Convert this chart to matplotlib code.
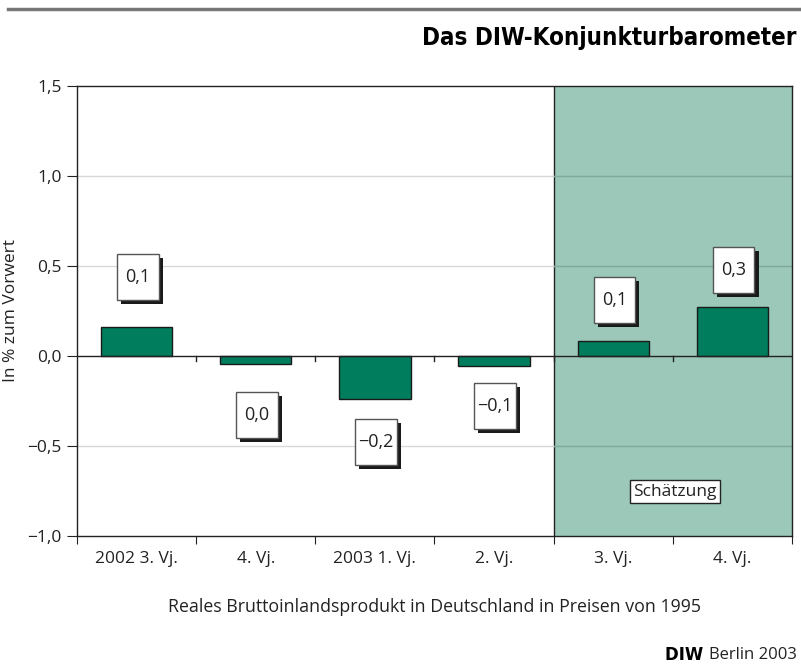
import numpy as np
import matplotlib
matplotlib.use("Agg")
import matplotlib.pyplot as plt
from matplotlib.patches import Rectangle
from matplotlib.lines import Line2D

plt.rcParams["font.family"] = ["Open Sans", "DejaVu Sans"]

# Daten
quartale = ["2002 3. Vj.", "4. Vj.", "2003 1. Vj.", "2. Vj.", "3. Vj.", "4. Vj."]
werte = [0.16, -0.045, -0.24, -0.055, 0.083, 0.27]
etiketten = ["0,1", "0,0", "\u22120,2", "\u22120,1", "0,1", "0,3"]
etikett_y = [0.44, -0.33, -0.48, -0.28, 0.31, 0.48]
schaetzung_ab = 4          # ab diesem Index geschätzt
yticks = [-1.0, -0.5, 0.0, 0.5, 1.0, 1.5]
ytick_labels = ["\u22121,0", "\u22120,5", "0,0", "0,5", "1,0", "1,5"]

GRUEN = "#007d5c"
HELLGRUEN = "#9bc8b8"
DUNKEL = "#222222"

fig = plt.figure(figsize=(8.01, 6.68), dpi=100)
ax = fig.add_axes([77 / 801, 1 - 536 / 668, 715 / 801, 450 / 668])

n = len(quartale)
x = np.arange(n)
ax.set_xlim(-0.5, n - 0.5)
ax.set_ylim(-1.0, 1.5)

# Schätzungsbereich
ax.axvspan(schaetzung_ab - 0.5, n - 0.5, color=HELLGRUEN, zorder=0, lw=0)
ax.axvline(schaetzung_ab - 0.5, color=DUNKEL, lw=1.0, zorder=1)

# Gitterlinien
for yv in [-0.5, 0.5, 1.0]:
    ax.plot([-0.5, schaetzung_ab - 0.5], [yv, yv], color="#d8d8d8", lw=1.0, zorder=1)
    ax.plot([schaetzung_ab - 0.5, n - 0.5], [yv, yv], color="#7fa99a", lw=1.0, zorder=1)

ax.bar(x, werte, width=0.6, color=GRUEN, edgecolor="#1a1a1a", lw=1.0, zorder=3)
ax.axhline(0, color=DUNKEL, lw=1.0, zorder=4)

# Tick-Striche an der Nulllinie
for xt in np.arange(0.5, n - 0.5, 1.0):
    ax.plot([xt, xt], [0, -0.03], color=DUNKEL, lw=1.0, zorder=4)

# Wertetafeln mit Schatten
bw, bh = 0.35, 0.256
dx, dy = 0.034, 0.022
for xi, yi, txt in zip(x, etikett_y, etiketten):
    cx = xi + 0.01
    ax.add_patch(Rectangle((cx - bw / 2 + dx, yi - bh / 2 - dy), bw, bh,
                           facecolor="#1a1a1a", edgecolor="none", zorder=5))
    ax.add_patch(Rectangle((cx - bw / 2, yi - bh / 2), bw, bh,
                           facecolor="white", edgecolor="#555555", lw=1.0, zorder=6))
    ax.text(cx, yi, txt, ha="center", va="center", fontsize=13,
            color=DUNKEL, zorder=7)

ax.text(4.52, -0.755, "Schätzung", ha="center", va="center", fontsize=12.5,
        color=DUNKEL, zorder=7,
        bbox=dict(boxstyle="square,pad=0.2", facecolor="white",
                  edgecolor=DUNKEL, lw=1.0))

ax.set_yticks(yticks)
ax.set_yticklabels(ytick_labels)
ax.set_xticks(np.arange(-0.5, n, 1.0), minor=False)
ax.set_xticklabels([])
ax.set_xticks(x, minor=True)
ax.set_xticklabels(quartale, minor=True)
ax.tick_params(axis="x", which="minor", length=0, pad=11, labelsize=12.5,
               labelcolor=DUNKEL)
ax.tick_params(axis="x", which="major", length=6, direction="out", color=DUNKEL)
ax.tick_params(axis="y", length=7, direction="out", labelsize=12.5,
               labelcolor=DUNKEL, color=DUNKEL, pad=4)
for sp in ax.spines.values():
    sp.set_color(DUNKEL)
    sp.set_linewidth(1.0)

ax.set_ylabel("In % zum Vorwert", fontsize=12.5, color=DUNKEL, labelpad=6)
ax.set_xlabel("Reales Bruttoinlandsprodukt in Deutschland in Preisen von 1995",
              fontsize=12.8, color=DUNKEL, labelpad=22)

# Kopf und Fuß
fig.add_artist(Line2D([8 / 801, 1.0], [1 - 9 / 668, 1 - 9 / 668],
                      color="#777777", lw=2.5))
fig.text(796 / 801, 1 - 38 / 668, "Das DIW-Konjunkturbarometer",
         ha="right", va="center", fontsize=17.3, fontweight="bold",
         fontstretch="condensed", family=["DejaVu Sans"], color="black")
berlin = fig.text(797 / 801, 1 - 655 / 668, "Berlin 2003", ha="right", va="center",
                  fontsize=12, color=DUNKEL)
fig.add_artist(plt.Annotation("DIW ", xy=(0, 0.5), xycoords=berlin, ha="right",
                              va="center", fontsize=12, fontweight="bold",
                              family=["DejaVu Sans"], color="black"))

fig.savefig("out.png", dpi=100)
